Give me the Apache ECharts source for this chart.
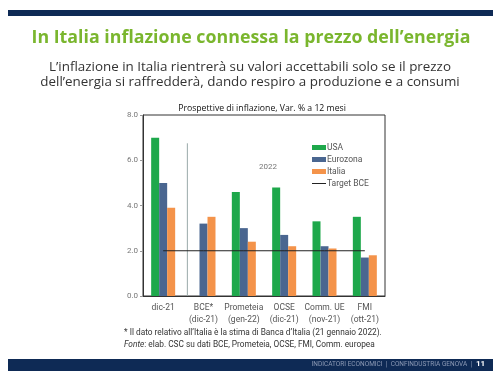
<!DOCTYPE html>
<html><head><meta charset="utf-8">
<script src="https://cdn.jsdelivr.net/npm/echarts@6/dist/echarts.min.js"></script>
<style>html,body{margin:0;padding:0;background:#fff;}#c{width:501px;height:381px;}</style>
</head><body><div id="c"></div>
<script>
const categories = ['dic-21', 'BCE*\n(dic-21)', 'Prometeia\n(gen-22)', 'OCSE\n(dic-21)', 'Comm. UE\n(nov-21)', 'FMI\n(ott-21)'];
const usa = [7.0, null, 4.6, 4.8, 3.3, 3.5];
const eurozona = [5.0, 3.2, 3.0, 2.7, 2.2, 1.7];
const italia = [3.9, 3.5, 2.4, 2.2, 2.1, 1.8];
const targetBCE = [2.0, 2.0, 2.0, 2.0, 2.0, 2.0];
const yTicks = [0, 2, 4, 6, 8];

const chart = echarts.init(document.getElementById('c'));
const F = '"Open Sans", "Noto Sans", sans-serif';
const R = 'Roboto, "Open Sans", sans-serif';
const option = {
  animation: false,
  backgroundColor: '#fff',
  title: [
    {text: 'Prospettive di inflazione, Var. % a 12 mesi', left: 257, top: 99, textAlign: 'center',
     textStyle: {color: '#111', fontSize: 8.7, fontWeight: 'normal', fontFamily: F}}
  ],
  grid: {left: 143, right: 116, top: 115, bottom: 85, show: true, borderColor: '#333', borderWidth: 1},
  legend: {
    orient: 'vertical', left: 307, top: 138, itemGap: 3, itemWidth: 14, itemHeight: 5,
    textStyle: {color: '#555', fontSize: 8.5, fontFamily: R, padding: [0,0,0,-4]},
    data: [
      {name: 'USA', icon: 'rect'},
      {name: 'Eurozona', icon: 'rect'},
      {name: 'Italia', icon: 'rect'},
      {name: 'Target BCE', icon: 'path://M0,0 L14,0 L14,1 L0,1 Z', itemStyle: {color: '#222'}}
    ]
  },
  xAxis: {
    type: 'category', data: categories,
    axisLine: {lineStyle: {color: '#333'}}, axisTick: {show: false},
    axisLabel: {color: '#555', fontSize: 8.5, fontFamily: R, lineHeight: 12, margin: 6, interval: 0}
  },
  yAxis: {
    type: 'value', min: yTicks[0], max: yTicks[yTicks.length-1], interval: 2,
    axisLine: {show: true, lineStyle: {color: '#333'}},
    axisTick: {show: true, length: 3, lineStyle: {color: '#999'}},
    splitLine: {show: false},
    axisLabel: {color: '#777', fontSize: 8, fontFamily: R, margin: 5, formatter: v => v.toFixed(1)}
  },
  series: [
    {name: 'USA', type: 'bar', data: usa, barWidth: 8, barGap: '0%', itemStyle: {color: '#1ea84b'}},
    {name: 'Eurozona', type: 'bar', data: eurozona, barWidth: 8, barGap: '0%', itemStyle: {color: '#4a6690'}},
    {name: 'Italia', type: 'bar', data: italia, barWidth: 8, barGap: '0%', itemStyle: {color: '#f4934a'}},
    {name: 'Target BCE', type: 'line', data: targetBCE, symbol: 'none', lineStyle: {color: '#222', width: 1}, itemStyle: {color: '#222'}, z: 5}
  ],
  graphic: [
    {type: 'rect', shape: {x: 8, y: 10, width: 485, height: 6}, style: {fill: '#0e2a55'}},
    {type: 'rect', shape: {x: 8, y: 359, width: 485, height: 12}, style: {fill: '#0e2a55'}},
    {type: 'text', x: 251, y: 38, style: {text: 'In Italia inflazione connessa la prezzo dell\u2019energia', fill: '#7ab62e', fontSize: 17.8, fontWeight: 'bold', fontFamily: F, textAlign: 'center', textVerticalAlign: 'middle'}},
    {type: 'text', x: 250, y: 67, style: {text: 'L\u2019inflazione in Italia rientrer\u00e0 su valori accettabili solo se il prezzo', fill: '#333', fontSize: 13.4, fontFamily: F, textAlign: 'center', textVerticalAlign: 'middle'}},
    {type: 'text', x: 250, y: 82, style: {text: 'dell\u2019energia si raffredder\u00e0, dando respiro a produzione e a consumi', fill: '#333', fontSize: 13.4, fontFamily: F, textAlign: 'center', textVerticalAlign: 'middle'}},
    {type: 'text', right: 29, top: 361, style: {text: 'INDICATORI ECONOMICI  |  CONFINDUSTRIA GENOVA  |', fill: '#8d9ab5', fontSize: 6.5, fontFamily: R}},
    {type: 'text', left: 476, top: 360, style: {text: '11', fill: '#fff', fontSize: 8, fontWeight: 'bold', fontFamily: R}},
    {type: 'text', x: 124, y: 333, style: {text: '* Il dato relativo all\u2019Italia \u00e8 la stima di Banca d\u2019Italia (21 gennaio 2022).', fill: '#333', fontSize: 8.3, fontFamily: R, textVerticalAlign: 'middle'}},
    {type: 'text', x: 124, y: 344.5, style: {rich: {i: {fontStyle: 'italic', fill: '#333', fontSize: 8.3, fontFamily: R}, n: {fill: '#333', fontSize: 8.3, fontFamily: R}}, text: '{i|Fonte}{n|: elab. CSC su dati BCE, Prometeia, OCSE, FMI, Comm. europea}', textVerticalAlign: 'middle'}},
    {type: 'text', left: 259, top: 163, style: {text: '2022', fill: '#777', fontSize: 8, fontFamily: R}}
  ]
};
chart.setOption(option);
// vertical separator between dic-21 and the 2022 forecasts
const p0 = chart.convertToPixel({xAxisIndex: 0}, 0);
const p1 = chart.convertToPixel({xAxisIndex: 0}, 1);
const yTop = chart.convertToPixel({yAxisIndex: 0}, 6.75);
const yBot = chart.convertToPixel({yAxisIndex: 0}, 0);
const sx = p0 + (p1 - p0) * 0.6;
option.graphic.push({type: 'line', shape: {x1: sx, y1: yTop, x2: sx, y2: yBot}, style: {stroke: '#9aa', lineWidth: 1}});
chart.setOption({graphic: option.graphic});
</script></body></html>
